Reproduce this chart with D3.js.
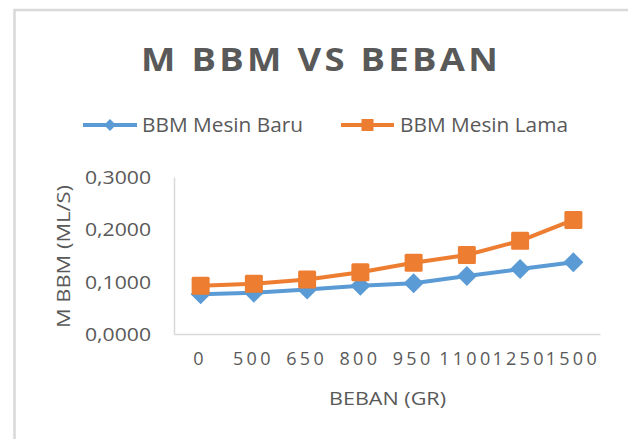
<!DOCTYPE html>
<html><head><meta charset="utf-8">
<script src="https://cdn.jsdelivr.net/npm/d3@7"></script>
<style>
html,body{margin:0;padding:0;background:#fff;}
svg{display:block;font-family:"Open Sans",sans-serif;}
</style></head>
<body>
<svg id="c" width="628" height="439"></svg>
<script>
const categories = ["0","500","650","800","950","1100","1250","1500"];
const seriesNames = ["BBM Mesin Baru","BBM Mesin Lama"];
const mesinBaru = [0.076,0.079,0.085,0.092,0.097,0.111,0.124,0.137];
const mesinLama = [0.092,0.096,0.104,0.118,0.136,0.151,0.178,0.218];
const yTicks = [0,0.1,0.2,0.3];
const titleText = "M BBM VS BEBAN";
const xTitle = "BEBAN (GR)";
const yTitle = "M BBM (ML/S)";

const colors = ["#5B9BD5","#ED7D31"];
const textCol = "#595959";
const svg = d3.select("#c");

// chart frame
svg.append("rect").attr("x",14.5).attr("y",10).attr("width",630).attr("height",460)
  .attr("fill","#fff").attr("stroke","#d9d9d9").attr("stroke-width",2.5);

const L=174,R=600,T=177,B=334;
const x = d3.scalePoint().domain(categories).range([L,R]).padding(0.5);
const y = d3.scaleLinear().domain([0,0.3]).range([B,T]);

// title (horizontally stretched, letter-spaced)
const tt = svg.append("text").attr("x",0).attr("y",71)
  .attr("font-size",33).attr("font-weight","bold").attr("fill",textCol)
  .attr("letter-spacing","3px").text(titleText);
const bb = tt.node().getBBox();
const tw = bb.width - 3;
tt.attr("transform",`translate(141,0) scale(${357/tw},1)`);

// axes
const fmt = v => d3.format(".4f")(v).replace(".",",");
const ya = svg.append("g").attr("transform",`translate(${L},0)`)
  .call(d3.axisLeft(y).tickValues(yTicks).tickFormat(fmt).tickSize(0).tickPadding(23));
ya.select(".domain").attr("stroke","#d9d9d9").attr("stroke-width",1.5);
ya.selectAll("text").attr("font-family","Open Sans").attr("font-size",18).attr("fill",textCol)
  .attr("dy","0.36em").attr("textLength",66).attr("lengthAdjust","spacingAndGlyphs");

const xa = svg.append("g").attr("transform",`translate(0,${B})`)
  .call(d3.axisBottom(x).tickSize(0).tickPadding(20));
xa.select(".domain").attr("stroke","#d9d9d9").attr("stroke-width",1.5);
xa.selectAll("text").attr("font-family","Open Sans").attr("font-size",18).attr("fill",textCol)
  .attr("letter-spacing","3.3px").attr("dx","-1px").attr("dy","0.62em");

svg.append("text").attr("x",329).attr("y",405)
  .attr("font-size",18).attr("fill",textCol)
  .attr("textLength",117).attr("lengthAdjust","spacingAndGlyphs").text(xTitle);
svg.append("text").attr("transform","translate(70,328) rotate(-90)")
  .attr("font-size",18).attr("fill",textCol)
  .attr("textLength",143).attr("lengthAdjust","spacingAndGlyphs").text(yTitle);

// series
const series = [mesinBaru, mesinLama];
const line = d3.line().x((d,i)=>x(categories[i])).y(d=>y(d));
series.forEach((s,k)=>{
  svg.append("path").datum(s).attr("d",line).attr("fill","none")
    .attr("stroke",colors[k]).attr("stroke-width",4).attr("stroke-linejoin","round");
});
// markers
svg.append("g").selectAll("path").data(mesinBaru).join("path")
  .attr("transform",(d,i)=>`translate(${x(categories[i])},${y(d)})`)
  .attr("d","M0,-10L10,0L0,10L-10,0Z").attr("fill",colors[0]);
svg.append("g").selectAll("rect").data(mesinLama).join("rect")
  .attr("x",(d,i)=>x(categories[i])-9).attr("y",d=>y(d)-9)
  .attr("width",18).attr("height",18).attr("rx",1.5).attr("fill",colors[1]);

// legend
const lg = svg.append("g");
const legItems = [{x0:83,x1:137,tx:142,tw:161},{x0:341,x1:394,tx:400,tw:168}];
legItems.forEach((it,k)=>{
  lg.append("line").attr("x1",it.x0).attr("x2",it.x1).attr("y1",125).attr("y2",125)
    .attr("stroke",colors[k]).attr("stroke-width",4);
  const cx=(it.x0+it.x1)/2;
  if(k===0) lg.append("path").attr("transform",`translate(${cx},125)`).attr("d","M0,-6L6,0L0,6L-6,0Z").attr("fill",colors[0]);
  else lg.append("rect").attr("x",cx-6).attr("y",119).attr("width",12).attr("height",12).attr("fill",colors[1]);
  lg.append("text").attr("x",it.tx).attr("y",132).attr("font-size",20).attr("fill",textCol)
    .attr("textLength",it.tw).attr("lengthAdjust","spacingAndGlyphs").text(seriesNames[k]);
});
</script>
</body></html>
